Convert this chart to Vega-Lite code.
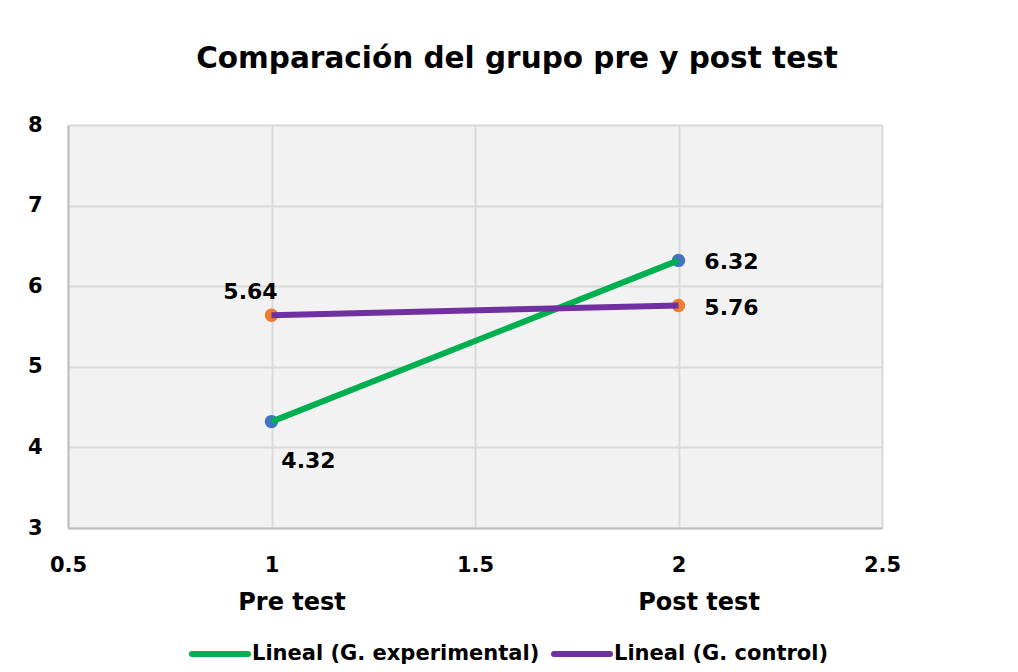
{
  "$schema": "https://vega.github.io/schema/vega-lite/v6.json",
  "width": 814,
  "height": 403,
  "autosize": {"type": "none"},
  "padding": {"left": 68, "top": 125, "right": 136, "bottom": 144},
  "background": "white",
  "title": {
    "text": "Comparación del grupo pre y post test",
    "font": "DejaVu Sans",
    "fontSize": 29.5,
    "fontWeight": "bold",
    "color": "#000000",
    "anchor": "middle",
    "offset": 40,
    "dx": 42
  },
  "config": {
    "view": {"fill": "#f2f2f2", "stroke": null},
    "font": "DejaVu Sans"
  },
  "data": {
    "values": [
      {"x": 1, "fase": "Pre test", "grupo": "Lineal (G. experimental)", "valor": 4.32},
      {"x": 2, "fase": "Post test", "grupo": "Lineal (G. experimental)", "valor": 6.32},
      {"x": 1, "fase": "Pre test", "grupo": "Lineal (G. control)", "valor": 5.64},
      {"x": 2, "fase": "Post test", "grupo": "Lineal (G. control)", "valor": 5.76}
    ]
  },
  "layer": [
    {
      "mark": {"type": "point", "filled": true, "size": 180, "opacity": 1},
      "encoding": {
        "x": {
          "field": "x",
          "type": "quantitative",
          "scale": {"domain": [0.5, 2.5], "nice": false, "zero": false},
          "axis": {
            "title": null,
            "orient": "bottom",
            "values": [0.5, 1, 1.5, 2, 2.5],
            "format": "~g",
            "labelFont": "DejaVu Sans",
            "labelFontSize": 21,
            "labelFontWeight": "bold",
            "labelColor": "#000000",
            "labelPadding": 26,
            "labelFlush": false,
            "ticks": false,
            "domainColor": "#bfbfbf",
            "domainWidth": 2,
            "gridColor": "#d9d9d9",
            "gridWidth": 2
          }
        },
        "y": {
          "field": "valor",
          "type": "quantitative",
          "scale": {"domain": [3, 8], "nice": false, "zero": false},
          "axis": {
            "title": null,
            "values": [3, 4, 5, 6, 7, 8],
            "format": "~g",
            "labelFont": "DejaVu Sans",
            "labelFontSize": 21,
            "labelFontWeight": "bold",
            "labelColor": "#000000",
            "labelPadding": 26,
            "ticks": false,
            "domainColor": "#bfbfbf",
            "domainWidth": 2,
            "gridColor": "#d9d9d9",
            "gridWidth": 2
          }
        },
        "color": {
          "condition": {"test": "datum.grupo === 'Lineal (G. experimental)'", "value": "#4472c4"},
          "value": "#ed7d31"
        }
      }
    },
    {
      "mark": {"type": "line", "strokeWidth": 6, "strokeCap": "butt"},
      "encoding": {
        "x": {"field": "x", "type": "quantitative", "axis": null},
        "y": {"field": "valor", "type": "quantitative"},
        "color": {
          "field": "grupo",
          "type": "nominal",
          "scale": {
            "domain": ["Lineal (G. experimental)", "Lineal (G. control)"],
            "range": ["#00b050", "#7030a0"]
          },
          "legend": {
            "title": null,
            "orient": "none",
            "direction": "horizontal",
            "legendX": 121,
            "legendY": 498,
            "symbolType": "stroke",
            "symbolSize": 3136,
            "symbolStrokeWidth": 6,
            "labelFont": "DejaVu Sans",
            "labelFontSize": 21,
            "labelFontWeight": "bold",
            "labelColor": "#000000",
            "labelOffset": 1,
            "columnPadding": 2,
            "labelLimit": 400,
            "encode": {
              "symbols": {"update": {"stroke": {"scale": "color", "field": "value"}, "strokeCap": {"value": "round"}}}
            }
          }
        }
      }
    },
    {
      "transform": [{"filter": "datum.x === 2"}],
      "mark": {"type": "text", "font": "DejaVu Sans", "fontSize": 22, "fontWeight": "bold", "color": "#000000", "dx": 53, "dy": 2, "align": "center", "baseline": "middle"},
      "encoding": {
        "x": {"field": "x", "type": "quantitative", "axis": null},
        "y": {"field": "valor", "type": "quantitative"},
        "text": {"field": "valor", "type": "quantitative", "format": ".2f"}
      }
    },
    {
      "transform": [{"filter": "datum.x === 1 && datum.grupo === 'Lineal (G. control)'"}],
      "mark": {"type": "text", "font": "DejaVu Sans", "fontSize": 22, "fontWeight": "bold", "color": "#000000", "dx": -21, "dy": -23, "align": "center", "baseline": "middle"},
      "encoding": {
        "x": {"field": "x", "type": "quantitative", "axis": null},
        "y": {"field": "valor", "type": "quantitative"},
        "text": {"field": "valor", "type": "quantitative", "format": ".2f"}
      }
    },
    {
      "transform": [{"filter": "datum.x === 1 && datum.grupo === 'Lineal (G. experimental)'"}],
      "mark": {"type": "text", "font": "DejaVu Sans", "fontSize": 22, "fontWeight": "bold", "color": "#000000", "dx": 37, "dy": 39, "align": "center", "baseline": "middle"},
      "encoding": {
        "x": {"field": "x", "type": "quantitative", "axis": null},
        "y": {"field": "valor", "type": "quantitative"},
        "text": {"field": "valor", "type": "quantitative", "format": ".2f"}
      }
    },
    {
      "mark": {"type": "point", "opacity": 0},
      "encoding": {
        "x": {
          "field": "x",
          "type": "quantitative",
          "axis": {
            "title": null,
            "orient": "bottom",
            "values": [1, 2],
            "labelExpr": "datum.value === 1 ? 'Pre test' : 'Post test'",
            "labelFont": "DejaVu Sans",
            "labelFontSize": 24,
            "labelFontWeight": "bold",
            "labelColor": "#000000",
            "labelPadding": 62,
            "labelOffset": 20,
            "labelFlush": false,
            "ticks": false,
            "domain": false,
            "grid": false
          }
        }
      }
    }
  ],
  "resolve": {"axis": {"x": "independent"}}
}
